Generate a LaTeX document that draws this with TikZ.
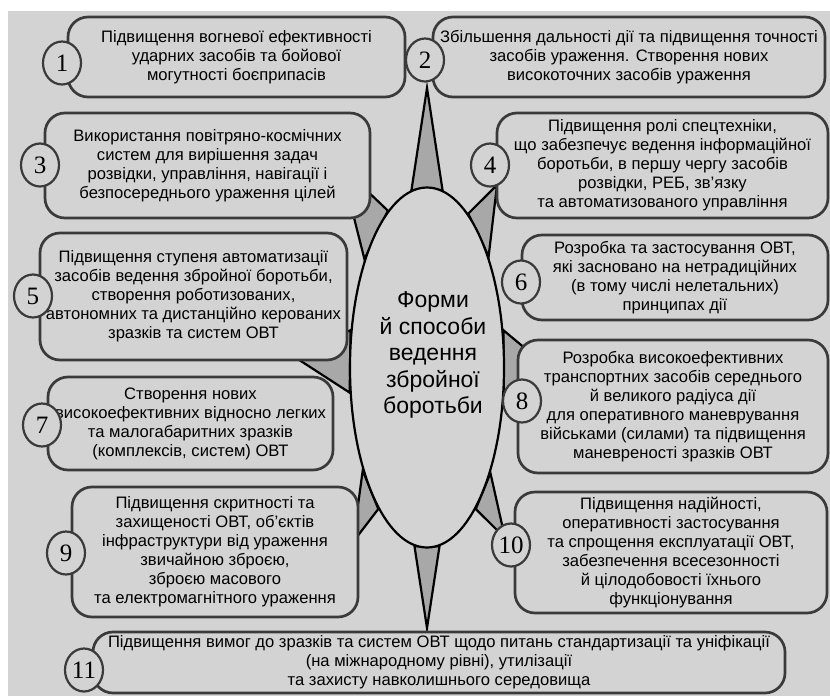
\documentclass[tikz,border=0pt]{standalone}
\usepackage{fontspec}
\setmainfont{Liberation Sans}
\newfontfamily\numfont{Liberation Serif}
\usetikzlibrary{shapes.geometric, backgrounds}
\definecolor{bggray}{RGB}{211,211,211}
\definecolor{framegray}{RGB}{58,58,58}
\definecolor{spikegray}{RGB}{168,168,168}

\begin{document}
\begin{tikzpicture}[x=1pt, y=-1pt,
    itembox/.style={draw=framegray, line width=2.7pt, fill=bggray, rounded corners=20pt,
        align=center, inner sep=0pt, font=\fontsize{16.6}{19}\selectfont},
    numbadge/.style={ellipse, draw=framegray, line width=2.2pt, fill=bggray,
        minimum width=38pt, minimum height=43pt, inner sep=0pt, font=\numfont\fontsize{25}{25}\selectfont},
    spike/.style={draw=black, line width=2.2pt, fill=spikegray}]
    \useasboundingbox (0,0) rectangle (830,696);

    % --- Centre ---
    \node[ellipse, draw=black, line width=2.2pt, fill=bggray, minimum width=154pt, minimum height=360pt, inner sep=0pt]
        (core) at (427,367.5) {};
    \node[align=center, font=\fontsize{23}{26.5}\selectfont] (coretext) at (433,355)
        {Форми\\й способи\\ведення\\збройної\\боротьби};

    % --- Spike tips (under the boxes) ---
    \coordinate (tip2) at (427,88);
    \coordinate (tip3) at (341,166);
    \coordinate (tip4) at (497,185);
    \coordinate (tip5) at (290,354);
    \coordinate (tip8) at (545,365);
    \coordinate (tip9) at (353,542);
    \coordinate (tip10) at (505,538);
    \coordinate (tip11) at (427,628);

    \begin{scope}[on background layer]
        \fill[bggray] (8,11) rectangle (830,696);
        \draw[spike] (core.95) -- (tip2) -- (core.85) -- cycle;
        \draw[spike] (core.104) -- (tip3) -- (core.120) -- cycle;
        \draw[spike] (core.75) -- (tip4) -- (core.61) -- cycle;
        \draw[spike] (core.154) -- (tip5) -- (core.198) -- cycle;
        \draw[spike] (core.26) -- (tip8) -- (core.-22) -- cycle;
        \draw[spike] (core.238) -- (tip9) -- (core.251) -- cycle;
        \draw[spike] (core.-59) -- (tip10) -- (core.-71) -- cycle;
        \draw[spike] (core.266) -- (tip11) -- (core.274) -- cycle;
    \end{scope}

    % --- Left column ---
    \node[itembox, minimum width=337pt, minimum height=80pt] (b1) at (236.5,57)
        {Підвищення вогневої ефективності\\ударних засобів та бойової\\могутності боєприпасів};
    \node[itembox, minimum width=325pt, minimum height=105pt] (b3) at (207.5,165.5)
        {Використання повітряно-космічних\\систем для вирішення задач\\розвідки, управління, навігації і\\безпосереднього ураження цілей};
    \node[itembox, minimum width=307pt, minimum height=127pt] (b5) at (193.5,296.5)
        {Підвищення ступеня автоматизації\\засобів ведення збройної боротьби,\\створення роботизованих,\\автономних та дистанційно керованих\\зразків та систем ОВТ};
    \node[itembox, minimum width=285pt, minimum height=93pt] (b7) at (190.5,423.5)
        {Створення нових\\високоефективних відносно легких\\та малогабаритних зразків\\(комплексів, систем) ОВТ};
    \node[itembox, minimum width=286pt, minimum height=130pt] (b9) at (215,552)
        {Підвищення скритності та\\захищеності ОВТ, об’єктів\\інфраструктури від ураження\\звичайною зброєю,\\зброєю масового\\та електромагнітного ураження};

    % --- Right column ---
    \node[itembox, minimum width=392pt, minimum height=80pt] (b2) at (629,57)
        {Збільшення дальності дії та підвищення точності\\засобів ураження. Створення нових\\високоточних засобів ураження};
    \node[itembox, minimum width=331pt, minimum height=105pt] (b4) at (662.5,165.5)
        {Підвищення ролі спецтехніки,\\що забезпечує ведення інформаційної\\боротьби, в першу чергу засобів\\розвідки, РЕБ, зв’язку\\та автоматизованого управління};
    \node[itembox, minimum width=306pt, minimum height=85pt] (b6) at (675,277.5)
        {Розробка та застосування ОВТ,\\які засновано на нетрадиційних\\(в тому числі нелетальних)\\принципах дії};
    \node[itembox, minimum width=310pt, minimum height=133pt] (b8) at (673,406.5)
        {Розробка високоефективних\\транспортних засобів середнього\\й великого радіуса дії\\для оперативного маневрування\\військами (силами) та підвищення\\маневреності зразків ОВТ};
    \node[itembox, minimum width=312pt, minimum height=121pt] (b10) at (671,552.5)
        {Підвищення надійності,\\оперативності застосування\\та спрощення експлуатації ОВТ,\\забезпечення всесезонності\\й цілодобовості їхнього\\функціонування};

    % --- Bottom ---
    \node[itembox, minimum width=692pt, minimum height=61pt] (b11) at (439,662.5)
        {Підвищення вимог до зразків та систем ОВТ щодо питань стандартизації та уніфікації\\(на міжнародному рівні), утилізації\\та захисту навколишнього середовища};

    % --- Numbers ---
    \node[numbadge] (n1) at (62,63) {1};
    \node[numbadge] (n2) at (425,60) {2};
    \node[numbadge] (n3) at (40,165) {3};
    \node[numbadge] (n4) at (490,165) {4};
    \node[numbadge] (n5) at (33,296) {5};
    \node[numbadge] (n6) at (521,282) {6};
    \node[numbadge] (n7) at (42,425) {7};
    \node[numbadge] (n8) at (522,401) {8};
    \node[numbadge] (n9) at (66,553) {9};
    \node[numbadge] (n10) at (511,545) {10};
    \node[numbadge] (n11) at (84,670) {11};
\end{tikzpicture}
\end{document}
